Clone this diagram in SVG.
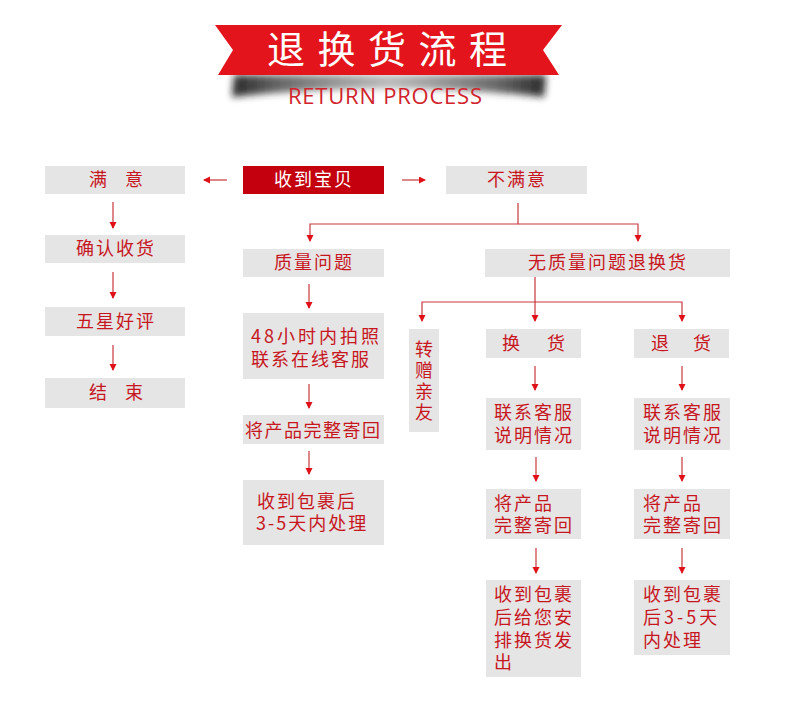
<svg xmlns="http://www.w3.org/2000/svg" width="800" height="718" viewBox="0 0 800 718">
<defs>
<style>
.box{fill:#e5e5e5}
.t{font-family:"Noto Sans CJK SC","Noto Sans",sans-serif;font-size:18px;fill:#c8161e;letter-spacing:2px}
.tc{text-anchor:middle}
.ln{fill:none;stroke:#c9383c;stroke-width:1.2}
</style>
<marker id="ah" markerUnits="userSpaceOnUse" markerWidth="8" markerHeight="8" refX="6" refY="3.5" orient="auto">
<path d="M0,0 L7,3.5 L0,7 Z" fill="#e01018"/>
</marker>
<linearGradient id="sh" x1="0" y1="0" x2="1" y2="0">
<stop offset="0" stop-color="#111" stop-opacity="0.9"/>
<stop offset="0.15" stop-color="#333" stop-opacity="0.75"/>
<stop offset="0.5" stop-color="#666" stop-opacity="0.45"/>
<stop offset="0.85" stop-color="#333" stop-opacity="0.75"/>
<stop offset="1" stop-color="#111" stop-opacity="0.9"/>
</linearGradient>
<filter id="blur" x="-20%" y="-100%" width="140%" height="300%"><feGaussianBlur stdDeviation="3.5"/></filter>
</defs>
<rect width="800" height="718" fill="#ffffff"/>

<g id="banner">
<path d="M234,75 L546,75 L544,97 Q390,80 232,97 Z" fill="url(#sh)" filter="url(#blur)"/>
<path d="M215,25 L562,25 L543,50 L559,75 L218,75 L233,50 Z" fill="#e3141c"/>
<text x="267" y="63" font-family="Noto Sans CJK SC,sans-serif" font-size="38" fill="#ffffff" letter-spacing="12.5">退换货流程</text>
<text x="385" y="104" text-anchor="middle" font-family="Open Sans,sans-serif" font-size="22" fill="#d0232b" textLength="194">RETURN PROCESS</text>
</g>

<g id="connectors">
<path class="ln" d="M227,180 H204" marker-end="url(#ah)"/>
<path class="ln" d="M402,180 H425" marker-end="url(#ah)"/>
<path class="ln" d="M113,202 V228" marker-end="url(#ah)"/>
<path class="ln" d="M113,272 V298" marker-end="url(#ah)"/>
<path class="ln" d="M113,345 V370" marker-end="url(#ah)"/>
<path class="ln" d="M518,203 V224 H310 V241" marker-end="url(#ah)"/>
<path class="ln" d="M518,224 H638 V241" marker-end="url(#ah)"/>
<path class="ln" d="M309,284 V308" marker-end="url(#ah)"/>
<path class="ln" d="M309,384 V408" marker-end="url(#ah)"/>
<path class="ln" d="M309,451 V474" marker-end="url(#ah)"/>
<path class="ln" d="M535,277 V302 H422 V321" marker-end="url(#ah)"/>
<path class="ln" d="M535,302 V321" marker-end="url(#ah)"/>
<path class="ln" d="M535,302 H682 V321" marker-end="url(#ah)"/>
<path class="ln" d="M535,366 V390" marker-end="url(#ah)"/>
<path class="ln" d="M536,457 V481" marker-end="url(#ah)"/>
<path class="ln" d="M536,548 V573" marker-end="url(#ah)"/>
<path class="ln" d="M682,366 V390" marker-end="url(#ah)"/>
<path class="ln" d="M682,457 V481" marker-end="url(#ah)"/>
<path class="ln" d="M682,548 V573" marker-end="url(#ah)"/>
</g>

<g id="n_satisfied"><rect class="box" x="45" y="166" width="140" height="28"/><text class="t" x="89 107 125" y="186">满 意</text></g>
<g id="n_received"><rect x="243" y="166" width="141" height="28" fill="#c4000e"/><text class="t tc" x="314" y="186" style="fill:#ffffff">收到宝贝</text></g>
<g id="n_unsatisfied"><rect class="box" x="446" y="166" width="141" height="28"/><text class="t tc" x="517" y="186">不满意</text></g>
<g id="n_confirm"><rect class="box" x="45" y="235" width="140" height="28"/><text class="t tc" x="116" y="255">确认收货</text></g>
<g id="n_fivestar"><rect class="box" x="45" y="307" width="140" height="29"/><text class="t tc" x="116" y="328">五星好评</text></g>
<g id="n_end"><rect class="box" x="45" y="378" width="140" height="30"/><text class="t" x="89 107 125" y="399">结 束</text></g>

<g id="n_quality"><rect class="box" x="243" y="249" width="141" height="28"/><text class="t tc" x="314" y="269">质量问题</text></g>
<g id="n_photo"><rect class="box" x="243" y="313" width="141" height="66"/><text class="t" x="251" y="343" style="letter-spacing:3px">48小时内拍照</text><text class="t" x="251" y="366">联系在线客服</text></g>
<g id="n_sendback"><rect class="box" x="243" y="415" width="141" height="29"/><text class="t" x="245" y="437" style="letter-spacing:1.5px">将产品完整寄回</text></g>
<g id="n_process"><rect class="box" x="243" y="480" width="141" height="65"/><text class="t" x="257" y="508">收到包裹后</text><text class="t" x="256" y="530">3-5天内处理</text></g>

<g id="n_noquality"><rect class="box" x="485" y="249" width="245" height="28"/><text class="t tc" x="608" y="269">无质量问题退换货</text></g>
<g id="n_gift"><rect class="box" x="409" y="329" width="30" height="103"/><text class="t" x="424" y="340" style="writing-mode:vertical-rl;letter-spacing:3px">转赠亲友</text></g>

<g id="n_exchange"><rect class="box" x="486" y="329" width="95" height="29"/><text class="t" x="502 520 547" y="350">换 货</text></g>
<g id="n_ex_contact"><rect class="box" x="486" y="398" width="95" height="52"/><text class="t" x="494" y="419">联系客服</text><text class="t" x="494" y="442">说明情况</text></g>
<g id="n_ex_send"><rect class="box" x="486" y="489" width="95" height="50"/><text class="t" x="494" y="510">将产品</text><text class="t" x="494" y="532">完整寄回</text></g>
<g id="n_ex_final"><rect class="box" x="486" y="580" width="95" height="97"/><text class="t" x="494" y="601">收到包裹</text><text class="t" x="494" y="624">后给您安</text><text class="t" x="494" y="647">排换货发</text><text class="t" x="494" y="669">出</text></g>

<g id="n_return"><rect class="box" x="634" y="329" width="95" height="29"/><text class="t" x="651 669 693" y="350">退 货</text></g>
<g id="n_re_contact"><rect class="box" x="634" y="398" width="96" height="52"/><text class="t" x="643" y="419">联系客服</text><text class="t" x="643" y="442">说明情况</text></g>
<g id="n_re_send"><rect class="box" x="634" y="489" width="96" height="50"/><text class="t" x="643" y="510">将产品</text><text class="t" x="643" y="532">完整寄回</text></g>
<g id="n_re_final"><rect class="box" x="634" y="580" width="96" height="75"/><text class="t" x="643" y="601">收到包裹</text><text class="t" x="643" y="624" style="letter-spacing:3px">后3-5天</text><text class="t" x="643" y="647">内处理</text></g>
</svg>
